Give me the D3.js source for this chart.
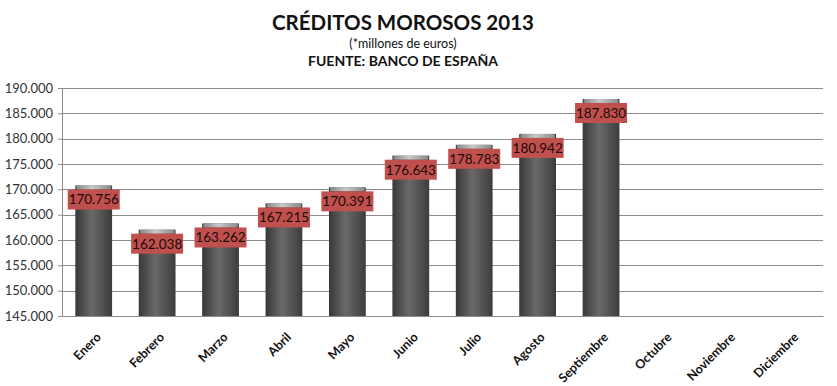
<!DOCTYPE html>
<html>
<head>
<meta charset="utf-8">
<script src="https://cdn.jsdelivr.net/npm/d3@7"></script>
<style>
  body { margin: 0; background: #fff; }
  text { font-family: Lato, "Open Sans", sans-serif; }
</style>
</head>
<body>
<svg class="chart" width="837" height="386"></svg>
<script>
var months = ["Enero", "Febrero", "Marzo", "Abril", "Mayo", "Junio", "Julio",
              "Agosto", "Septiembre", "Octubre", "Noviembre", "Diciembre"];
var creditos = [170756, 162038, 163262, 167215, 170391, 176643, 178783,
                180942, 187830, null, null, null];
var yTicks = [145000, 150000, 155000, 160000, 165000, 170000, 175000,
              180000, 185000, 190000];

(function chartIIFE() {
    var svg = d3.select("svg.chart"),
        margin = {top: 88, right: 14, bottom: 70, left: 62},
        width = +svg.attr("width") - margin.left - margin.right,
        height = +svg.attr("height") - margin.top - margin.bottom;

    var fmt = function(v) { return d3.format(",.0f")(v).replace(/,/g, "."); };

    var x = d3.scaleBand().domain(months).range([0, width]).paddingInner(0.42).paddingOuter(0.21),
        y = d3.scaleLinear().domain([145000, 190000]).range([height, 0]);

    // gradients for the cylinder look
    var defs = svg.append("defs");
    var body = defs.append("linearGradient").attr("id", "barBody");
    body.append("stop").attr("offset", "0%").attr("stop-color", "#383838");
    body.append("stop").attr("offset", "45%").attr("stop-color", "#6a6a6a");
    body.append("stop").attr("offset", "100%").attr("stop-color", "#3c3c3c");
    var cap = defs.append("linearGradient").attr("id", "barCap");
    cap.append("stop").attr("offset", "0%").attr("stop-color", "#888");
    cap.append("stop").attr("offset", "45%").attr("stop-color", "#c8c8c8");
    cap.append("stop").attr("offset", "100%").attr("stop-color", "#8a8a8a");

    // titles
    svg.append("text").attr("x", 403).attr("y", 30).attr("text-anchor", "middle")
        .style("font-size", "20.5px").style("font-weight", "bold").style("fill", "#111")
        .text("CRÉDITOS MOROSOS 2013");
    svg.append("text").attr("x", 403).attr("y", 48).attr("text-anchor", "middle")
        .style("font-size", "12.5px").style("fill", "#111")
        .text("(*millones de euros)");
    svg.append("text").attr("x", 403).attr("y", 66).attr("text-anchor", "middle")
        .style("font-size", "14px").style("font-weight", "bold").style("fill", "#111")
        .text("FUENTE: BANCO DE ESPAÑA");

    var g = svg.append("g")
        .attr("transform", "translate(" + margin.left + "," + margin.top + ")");

    // grid
    g.append("g").selectAll("line").data(yTicks.slice(1)).enter().append("line")
        .attr("x1", 0).attr("x2", width)
        .attr("y1", function(d) { return Math.round(y(d)) + 0.5; })
        .attr("y2", function(d) { return Math.round(y(d)) + 0.5; })
        .attr("stroke", "#8c8c8c");

    // y axis
    var yAxis = g.append("g").attr("class", "y-axis")
        .call(d3.axisLeft(y).tickValues(yTicks).tickFormat(fmt).tickSize(4).tickPadding(5));
    yAxis.select(".domain").attr("stroke", "#8c8c8c");
    yAxis.selectAll(".tick line").attr("stroke", "#8c8c8c");
    yAxis.selectAll("text").style("font-size", "13px").style("fill", "#333")
        .style("font-family", "Lato, sans-serif");

    // x axis
    var xAxis = g.append("g").attr("class", "x-axis")
        .attr("transform", "translate(0," + height + ")")
        .call(d3.axisBottom(x).tickSize(0).tickPadding(0));
    xAxis.select(".domain").attr("stroke", "#8c8c8c");
    xAxis.selectAll("text")
        .attr("text-anchor", "end")
        .attr("dy", 0)
        .attr("transform", "translate(8,22) rotate(-45)")
        .style("font-size", "12.5px").style("font-weight", "bold").style("fill", "#111")
        .style("font-family", "Lato, sans-serif");

    var data = months.map(function(m, i) { return {m: m, v: creditos[i]}; })
        .filter(function(d) { return d.v != null; });

    // bars
    g.selectAll(".bar").data(data).enter().append("rect")
        .attr("class", "bar")
        .attr("x", function(d) { return x(d.m); })
        .attr("y", function(d) { return y(d.v); })
        .attr("width", x.bandwidth())
        .attr("height", function(d) { return height - y(d.v); })
        .attr("fill", "url(#barBody)");

    g.selectAll(".cap").data(data).enter().append("rect")
        .attr("class", "cap")
        .attr("x", function(d) { return x(d.m) + 1; })
        .attr("y", function(d) { return y(d.v); })
        .attr("width", x.bandwidth() - 2)
        .attr("height", 4)
        .attr("rx", 1.5)
        .attr("fill", "url(#barCap)");

    // labels
    var lab = g.selectAll(".lab").data(data).enter().append("g")
        .attr("class", "lab")
        .attr("transform", function(d) {
            return "translate(" + (x(d.m) + x.bandwidth() / 2) + "," + (y(d.v) + 14) + ")";
        });
    lab.append("rect").attr("x", -26).attr("y", -10).attr("width", 52).attr("height", 20)
        .attr("fill", "#c0504d");
    lab.append("text").attr("text-anchor", "middle").attr("dy", "0.36em")
        .style("font-size", "13.5px").style("fill", "#1a0a0a")
        .text(function(d) { return fmt(d.v); });
})();
</script>
</body>
</html>
